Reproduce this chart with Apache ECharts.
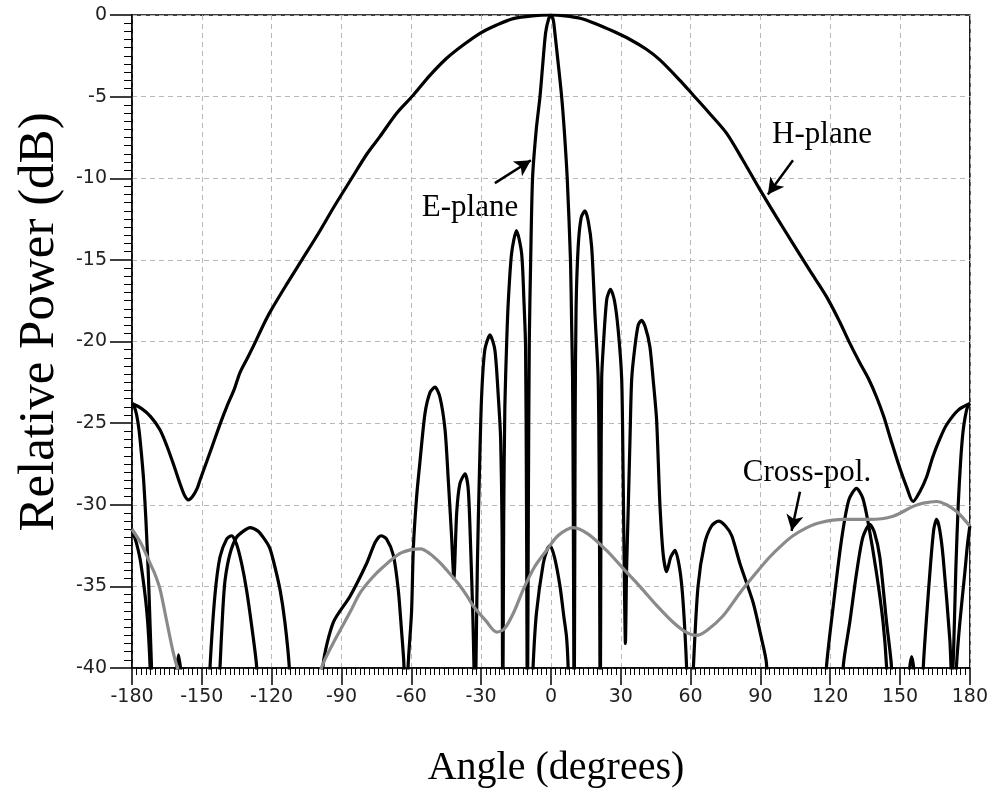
<!DOCTYPE html>
<html>
<head>
<meta charset="utf-8">
<script src="https://cdn.jsdelivr.net/npm/echarts@6/dist/echarts.min.js"></script>
<style>
html,body{margin:0;padding:0;background:#fff;}
#c{width:991px;height:812px;}
</style>
</head>
<body>
<div id="c"></div>
<script>
// ---------- data (angle in degrees, relative power in dB) ----------
const hAngles = [-180,-176,-172,-168,-165,-162,-159.4,-157.5,-155.8,-154,-152,-150.8,-148,-145,-142,-139.3,-136,-133.6,-130,-127.9,-123.6,-120.7,-114,-107,-100,-93,-85.6,-79,-73.5,-66.2,-59.1,-52,-44.8,-37.7,-30.5,-23.3,-16.2,-8,0,6,12.5,19.5,26.8,34,41,46.8,55.4,61.1,68,75.5,82.5,89.8,97,104,111,118.4,124.1,128.4,132.7,136.5,139.9,143,146,150,152.8,155.6,158.5,161.4,164,167,170,175,180];
const hValues = [-23.8,-24.1,-24.6,-25.4,-26.4,-27.6,-28.7,-29.4,-29.7,-29.5,-29.0,-28.5,-27.4,-26.2,-25.0,-24.0,-22.9,-21.9,-20.9,-20.3,-19.0,-18.2,-16.6,-15.0,-13.4,-11.7,-10.0,-8.5,-7.45,-6.0,-4.9,-3.7,-2.65,-1.84,-1.12,-0.61,-0.22,-0.05,0,-0.05,-0.2,-0.55,-1.0,-1.5,-2.1,-2.75,-4.0,-4.9,-6.0,-7.25,-8.9,-10.7,-12.4,-14.0,-15.6,-17.25,-18.8,-20.1,-21.3,-22.3,-23.4,-24.6,-26.0,-27.8,-28.9,-29.8,-29.2,-28.3,-27.1,-26.0,-25.1,-24.2,-23.8];

const eAngles = [-180,-179,-178,-177,-176,-175,-174,-173,-172.2,-171.5,-170.5,-165,-150,-143.5,-142.2,-141,-140,-137.9,-135.1,-132,-129.3,-126,-123.6,-121,-119.3,-116.4,-114.3,-112.4,-111.5,-105,-99,-97.8,-93.5,-86.3,-79.2,-75.5,-73,-70.6,-67.7,-65.6,-64.2,-63.2,-62.3,-61.3,-59.9,-59.1,-57.7,-56.3,-54.1,-51.9,-49.8,-47.7,-45.5,-44.1,-42.7,-41.7,-40.5,-39.1,-36.9,-35.5,-34.5,-33.6,-33.1,-32.7,-32.2,-31.6,-30.8,-29.8,-28.4,-26.2,-24.1,-22.6,-21.6,-21,-20.7,-20.3,-19.8,-19,-18.3,-16.9,-14.8,-12.6,-11.6,-10.9,-10.5,-10.1,-9.7,-9.3,-8.7,-7.9,-6.3,-4.7,-3.5,-2.3,-1,0,1,1.7,3,4.6,5.8,7,8.4,8.9,9.3,9.6,10,10.4,10.8,11.7,13,14.6,16,17.5,18.9,20.3,20.8,21.2,21.5,21.8,22.5,24,25.6,27.3,28.9,30.4,31,31.5,32,32.5,33.2,34,34.7,36.1,37.5,38.9,40.5,42.5,43.9,45.4,46.8,48.2,49.7,51.5,53.3,55.4,56.8,58.3,59.3,60.3,61.2,63.2,66,69,72,75,77.7,81.2,86.9,90,92.6,94,105,117,118.4,121.3,124.9,128,131.3,134,136.3,139.9,142.7,144.2,145.5,152,158.8,160,162.8,164.5,165.7,167,168.5,171.4,172.3,173,174,175,176,177,178,179,180];
const eValues = [-23.8,-24.0,-24.5,-25.4,-26.8,-28.5,-31.0,-34.2,-37.5,-40.5,-46,-52,-52,-45,-40,-36.5,-34.6,-33,-32,-31.6,-31.4,-31.6,-32,-32.6,-33.4,-35.2,-37.2,-40,-44,-50,-44,-39.7,-37.2,-35.6,-33.6,-32.3,-31.9,-32.1,-33.1,-35.2,-37.7,-39.7,-44,-39.7,-36.6,-32.6,-29.5,-27.4,-24.4,-23.1,-22.8,-23.4,-25.4,-28.5,-31.9,-34.5,-30.5,-28.7,-28.1,-29.1,-32.6,-36.6,-39.7,-44,-39.7,-33.6,-28.5,-23.4,-20.5,-19.6,-20.5,-23.4,-26,-31.5,-44,-31,-24,-20,-17.5,-14.6,-13.2,-14.6,-17.5,-20.3,-30,-44,-30,-20,-15,-10,-7,-5,-3,-1.1,-0.25,0,-0.3,-1.1,-2.8,-5,-7.2,-10,-15,-19,-22.3,-30,-44,-25,-18,-14.2,-12.4,-12.0,-12.6,-14.2,-18.3,-22.3,-30,-44,-30,-22.3,-20.3,-17.4,-16.8,-17.5,-19.3,-22.3,-28,-34,-38.5,-34,-30.3,-25.8,-22.3,-20.3,-19,-18.7,-19.1,-20.3,-22.3,-24.8,-29.9,-33,-34.1,-33.2,-32.8,-34,-36,-40,-45,-44,-40,-35,-32.4,-31.3,-31,-31.3,-31.9,-33.6,-36,-37.9,-39.7,-45,-52,-44,-39.9,-36.2,-32.1,-29.7,-29.0,-29.6,-31.1,-34.2,-37.2,-39.9,-45,-52,-45,-39.9,-34.2,-31.5,-30.9,-31.5,-33.2,-38.3,-41,-39,-33.8,-30,-27.4,-25.6,-24.6,-24.0,-23.8];

const e2Angles = [-180,-178,-176.2,-173.6,-172.2,-171.3,-166,-161.5,-160,-158.5,-154,-148,-146.5,-144.4,-142.2,-139.3,-137.2,-135.1,-132.9,-130.8,-128.6,-126.4,-125.3,-100,-30,-9,-7.6,-6.2,-3.3,-1.5,-0.4,1.5,3.9,5.5,6.7,7.4,8.2,40,118,124.5,125.6,128.4,131.3,134,137,139,141.3,144.2,146.3,147.2,151,153.8,155,156.2,159,170,173.5,174.2,175.7,177.8,179,180];
const e2Values = [-31.5,-32.4,-33.6,-36.6,-40,-45,-50,-41,-39.2,-41,-50,-45,-40,-35.6,-33.2,-32.1,-31.9,-32.4,-33.6,-35.2,-37.4,-40,-45,-55,-55,-45,-39.7,-36.6,-33.6,-32.7,-32.5,-33.2,-35,-36.8,-38.1,-40,-45,-55,-55,-45,-39.9,-37.2,-34.2,-32.0,-31.2,-31.7,-33.2,-37.2,-39.9,-45,-47,-40.5,-39.3,-40.5,-47,-50,-44,-40,-37.2,-34.2,-32.4,-31.3];

const xpAngles = [-180,-176,-172.2,-170,-167.9,-165,-162.2,-160,-155,-145,-130,-115,-105,-97.8,-94,-90.6,-86,-82,-77,-72,-65,-60,-56,-52,-48,-44.8,-40,-36,-33.4,-28,-23.3,-20,-16,-11.9,-7,-1.9,3,9.6,16,23.9,31,38.2,45,52.5,58,62.5,67,74,81.2,88,94,99,104,110,115.5,125.6,137,147,155.6,160,165.7,170,174.2,177,180];
const xpValues = [-31.5,-32.4,-33.6,-34.3,-35.2,-37.2,-39.1,-40.2,-42,-44.5,-45.5,-44.5,-42.3,-39.7,-38.6,-37.7,-36.5,-35.4,-34.5,-33.8,-33,-32.75,-32.7,-33.0,-33.5,-34,-34.8,-35.6,-36.2,-37.1,-37.8,-37.6,-36.6,-35.2,-33.8,-32.8,-31.9,-31.4,-31.8,-32.8,-33.9,-35,-36.1,-37.2,-37.8,-38.0,-37.7,-36.8,-35.4,-34.2,-33.2,-32.5,-31.9,-31.4,-31.1,-30.9,-30.9,-30.7,-30.1,-29.9,-29.8,-30.0,-30.4,-30.8,-31.3];

const xTickStep = 30, yTickStep = 5;
const xRange = [-180, 180], yRange = [-40, 0];

// annotation arrows (data coordinates: tail -> head)
const eArrow = [[-24.1, -10.3], [-8.6, -8.9]];
const hArrow = [[104, -8.9], [93.2, -11.0]];
const xArrow = [[107, -29.2], [103.4, -31.6]];

const zip = (a, b) => a.map((v, i) => [v, b[i]]);

const chart = echarts.init(document.getElementById('c'), null, {renderer: 'canvas'});
const serif = '"Liberation Serif", "Times New Roman", serif';
const sans = '"DejaVu Sans", "Liberation Sans", Arial, sans-serif';

const arrowLine = (pts) => ({
  silent: true,
  symbol: ['none', 'arrow'],
  symbolSize: [13, 16],
  lineStyle: {color: '#000', width: 2.5, type: 'solid'},
  label: {show: false},
  emphasis: {disabled: true},
  animation: false,
  data: [[{coord: pts[0]}, {coord: pts[1]}]]
});

chart.setOption({
  backgroundColor: '#fff',
  animation: false,
  grid: {left: 132, right: 21, top: 15, bottom: 144, show: true, borderColor: '#000', borderWidth: 1.5, backgroundColor: 'transparent'},
  xAxis: {
    type: 'value', min: xRange[0], max: xRange[1], interval: xTickStep,
    axisLine: {show: true, onZero: false, lineStyle: {color: '#000', width: 1.5}},
    axisTick: {show: true, length: 17, lineStyle: {color: '#000', width: 1.5}},
    minorTick: {show: true, splitNumber: 15, length: 7, lineStyle: {color: '#000', width: 1}},
    axisLabel: {margin: 20, fontSize: 19, color: '#222', fontFamily: sans},
    splitLine: {show: true, lineStyle: {color: '#b8b8b8', type: [5, 4], width: 1}},
    minorSplitLine: {show: false}
  },
  yAxis: {
    type: 'value', min: yRange[0], max: yRange[1], interval: yTickStep,
    axisLine: {show: true, onZero: false, lineStyle: {color: '#000', width: 1.5}},
    axisTick: {show: true, length: 22, lineStyle: {color: '#000', width: 1.5}},
    minorTick: {show: true, splitNumber: 10, length: 8, lineStyle: {color: '#000', width: 1}},
    axisLabel: {margin: 25, fontSize: 19, color: '#222', fontFamily: sans},
    splitLine: {show: true, lineStyle: {color: '#b8b8b8', type: [5, 4], width: 1}},
    minorSplitLine: {show: false}
  },
  series: [
    {name: 'H-plane', type: 'line', data: zip(hAngles, hValues), showSymbol: false, smooth: 0.3,
     lineStyle: {color: '#000', width: 3.2}, clip: true, z: 3,
     markLine: arrowLine(hArrow)},
    {name: 'E-plane', type: 'line', data: zip(eAngles, eValues), showSymbol: false, smooth: 0.25,
     lineStyle: {color: '#000', width: 3.2}, clip: true, z: 3,
     markLine: arrowLine(eArrow)},
    {name: 'E-plane (2)', type: 'line', data: zip(e2Angles, e2Values), showSymbol: false, smooth: 0.25,
     lineStyle: {color: '#000', width: 3.2}, clip: true, z: 3},
    {name: 'Cross-pol.', type: 'line', data: zip(xpAngles, xpValues), showSymbol: false, smooth: 0.3,
     lineStyle: {color: '#8a8a8a', width: 3.2}, clip: true, z: 4,
     markLine: arrowLine(xArrow)}
  ],
  graphic: [
    {type: 'text', x: 470, y: 208, style: {text: 'E-plane', font: '31px ' + serif, fill: '#000', textAlign: 'center', textVerticalAlign: 'middle'}},
    {type: 'text', x: 822, y: 135, style: {text: 'H-plane', font: '31px ' + serif, fill: '#000', textAlign: 'center', textVerticalAlign: 'middle'}},
    {type: 'text', x: 807, y: 473, style: {text: 'Cross-pol.', font: '31px ' + serif, fill: '#000', textAlign: 'center', textVerticalAlign: 'middle'}},
    {type: 'text', x: 556, y: 768, style: {text: 'Angle (degrees)', font: '40px ' + serif, fill: '#000', textAlign: 'center', textVerticalAlign: 'middle'}},
    {type: 'text', x: 40, y: 322, rotation: Math.PI / 2, style: {text: 'Relative Power (dB)', font: '51px ' + serif, fill: '#000', textAlign: 'center', textVerticalAlign: 'middle'}}
  ]
});
</script>
</body>
</html>
